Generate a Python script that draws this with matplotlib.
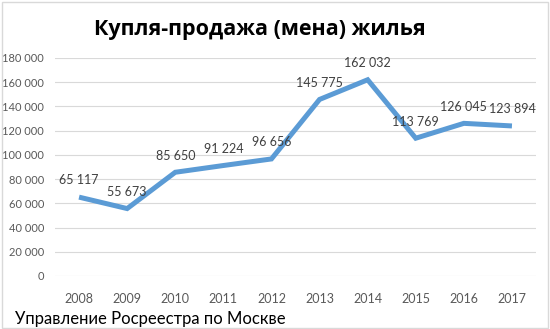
import matplotlib
matplotlib.use("Agg")
import matplotlib.pyplot as plt
from matplotlib.patches import Rectangle

years = ["2008", "2009", "2010", "2011", "2012", "2013", "2014", "2015", "2016", "2017"]
values = [65117, 55673, 85650, 91224, 96656, 145775, 162032, 113769, 126045, 123894]
yticks = [0, 20000, 40000, 60000, 80000, 100000, 120000, 140000, 160000, 180000]
title = "Купля-продажа (мена) жилья"
footer = "Управление Росреестра по Москве"

def fmt(v):
    return f"{v:,}".replace(",", " ")

plt.rcParams['font.family'] = ['Lato', 'DejaVu Sans']

fig = plt.figure(figsize=(5.5, 3.29), dpi=100)
ax = fig.add_axes([55/550, 1-276/329, 481/550, (276-58)/329])

x = list(range(len(years)))
ax.plot(x, values, color="#5B9BD5", lw=3.6, solid_capstyle="butt", solid_joinstyle="miter", zorder=3)
for xi, v in zip(x, values):
    ax.annotate(fmt(v), (xi, v), xytext=(0, 12), textcoords="offset points",
                ha="center", va="center", fontsize=9, color="#404040", zorder=4)

ax.set_xlim(-0.5, len(years) - 0.5)
ax.set_ylim(0, 180000)
ax.set_yticks(yticks)
ax.set_yticklabels([fmt(v) for v in yticks], fontsize=8, color="#595959")
ax.set_xticks(x)
ax.set_xticklabels(years, fontsize=9, color="#595959")
ax.tick_params(length=0, pad=8, axis="y")
ax.tick_params(length=0, pad=12, axis="x")
ax.grid(axis="y", color="#D9D9D9", lw=0.8)
ax.set_axisbelow(True)
for s in ax.spines.values():
    s.set_visible(False)

fig.text(260/550, 1-30/329, title, ha="center", va="center", fontsize=15.5,
         fontweight="bold", color="black", family=["Open Sans", "DejaVu Sans"])
fig.text(15/550, 1-319/329, footer, ha="left", va="center", fontsize=12, color="black")

fig.patches.append(Rectangle((1.5/550, 1.5/329), 546/550, 326/329, transform=fig.transFigure,
                             fill=False, edgecolor="#D9D9D9", lw=1))

fig.savefig("out.png", dpi=100)
